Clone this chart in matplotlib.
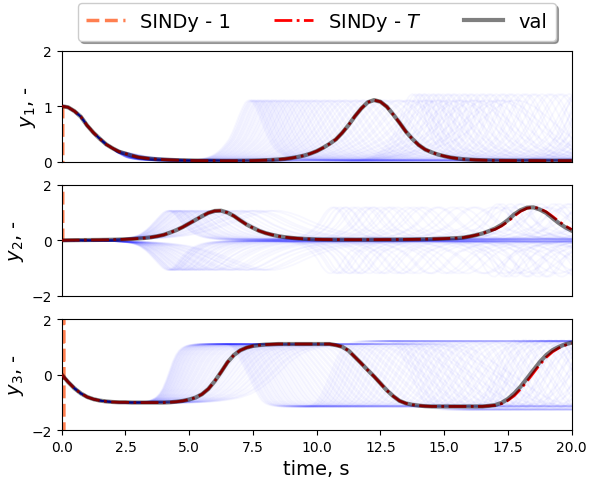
import numpy as np
import matplotlib
matplotlib.use("Agg")
import matplotlib.pyplot as plt
from matplotlib.lines import Line2D

# validation trajectory, every 0.25 s (0 .. 20 s)
time_s = np.linspace(0.0, 20.0, 81)

val_y1 = [1.00, 0.98, 0.91, 0.81, 0.65, 0.52, 0.41, 0.31, 0.24, 0.18,
          0.145, 0.11, 0.08, 0.065, 0.052, 0.043, 0.037, 0.032, 0.028, 0.025,
          0.022, 0.020, 0.019, 0.018, 0.017, 0.016, 0.016, 0.016, 0.017, 0.018,
          0.020, 0.023, 0.027, 0.032, 0.040, 0.050, 0.065, 0.085, 0.110, 0.145,
          0.19, 0.25, 0.32, 0.40, 0.52, 0.66, 0.82, 0.96, 1.07, 1.11,
          1.08, 0.99, 0.85, 0.70, 0.54, 0.41, 0.30, 0.22, 0.17, 0.13,
          0.10, 0.075, 0.058, 0.045, 0.037, 0.031, 0.027, 0.024, 0.022, 0.021,
          0.020, 0.020, 0.019, 0.019, 0.019, 0.018, 0.018, 0.018, 0.018, 0.018,
          0.018]

val_y2 = [0.000, 0.005, 0.008, 0.010, 0.012, 0.014, 0.016, 0.019, 0.023, 0.030,
          0.040, 0.052, 0.066, 0.085, 0.11, 0.15, 0.20, 0.28, 0.37, 0.48,
          0.61, 0.74, 0.87, 0.99, 1.06, 1.07, 1.00, 0.88, 0.72, 0.57,
          0.45, 0.34, 0.26, 0.20, 0.15, 0.115, 0.09, 0.07, 0.055, 0.045,
          0.035, 0.030, 0.028, 0.026, 0.025, 0.025, 0.024, 0.024, 0.024, 0.025,
          0.026, 0.027, 0.028, 0.030, 0.032, 0.035, 0.038, 0.042, 0.048, 0.055,
          0.063, 0.072, 0.080, 0.10, 0.14, 0.19, 0.25, 0.33, 0.43, 0.56,
          0.73, 0.94, 1.09, 1.18, 1.19, 1.11, 0.99, 0.80, 0.62, 0.47,
          0.35]

val_y3 = [0.00, -0.27, -0.50, -0.68, -0.81, -0.89, -0.94, -0.97, -0.99, -1.00,
          -1.00, -1.01, -1.01, -1.01, -1.01, -1.01, -1.01, -1.00, -0.98, -0.95,
          -0.90, -0.83, -0.71, -0.52, -0.24, 0.09, 0.44, 0.70, 0.87, 0.97,
          1.03, 1.06, 1.08, 1.09, 1.10, 1.10, 1.10, 1.10, 1.10, 1.10,
          1.10, 1.10, 1.10, 1.06, 1.00, 0.86, 0.63, 0.40, 0.16, -0.07,
          -0.32, -0.57, -0.78, -0.95, -1.04, -1.09, -1.12, -1.14, -1.15, -1.15,
          -1.15, -1.15, -1.15, -1.15, -1.15, -1.15, -1.15, -1.13, -1.10, -1.02,
          -0.88, -0.68, -0.43, -0.14, 0.16, 0.45, 0.70, 0.88, 1.00, 1.09,
          1.15]

# SINDy - T follows val, lagging a little in the last few seconds (17 .. 20 s)
sindy_T_tail_y2 = [0.40, 0.52, 0.68, 0.88, 1.05, 1.16, 1.20, 1.14, 1.03, 0.86, 0.68, 0.52, 0.39]
sindy_T_tail_y3 = [-1.11, -1.05, -0.93, -0.76, -0.52, -0.24, 0.06, 0.36, 0.62, 0.82, 0.96, 1.06, 1.13]

# SINDy - 1 blows up right after the start
sindy_1_t = [0.0, 0.04, 0.05, 0.08, 0.09]
sindy_1_y1 = [1.0, 0.99, -60.0, -60.0, -60.0]
sindy_1_y2 = [0.0, 0.0, 60.0, 60.0, 60.0]
sindy_1_y3 = [0.0, -0.05, -0.1, 40.0, -40.0]

# ensemble of test trajectories (blue): relative speed after leaving the first saddle
ens_speed = [0.65, 0.67, 0.68, 0.70, 0.72, 0.73, 0.75, 0.76, 0.78, 0.80,
             0.81, 0.83, 0.84, 0.86, 0.88, 0.89, 0.91, 0.92, 0.94, 0.96,
             0.97, 0.99, 1.00, 1.02, 1.04, 1.05, 1.07, 1.08, 1.10, 1.12,
             1.13, 1.15, 1.16, 1.18, 1.20, 1.21, 1.23, 1.24, 1.26, 1.28,
             1.29, 1.31, 1.32, 1.34, 1.36, 1.37, 1.39, 1.40, 1.42, 1.44,
             1.45, 1.47, 1.48, 1.50, 1.52, 1.53, 1.55, 1.56, 1.58, 1.60,
             1.61, 1.63, 1.64, 1.66, 1.68, 1.69, 1.71, 1.72, 1.74, 1.76,
             1.77, 1.79, 1.80, 1.82, 1.84, 1.85, 1.87, 1.88, 1.90, 1.92]
ens_y2_sign = [1, -1, 1, -1, -1, 1, 1, -1, 1, -1,
               -1, 1, 1, -1, 1, -1, -1, 1, -1, 1,
               1, -1, 1, -1, -1, 1, -1, 1, 1, -1,
               -1, 1, 1, -1, 1, -1, 1, -1, -1, 1,
               1, -1, -1, 1, 1, -1, 1, -1, 1, -1,
               -1, 1, -1, 1, 1, -1, -1, 1, -1, 1,
               1, -1, 1, 1, -1, -1, 1, -1, 1, -1,
               -1, 1, 1, -1, 1, -1, -1, 1, 1, -1]
split_time = 2.0
period = 12.3
cycle_gain = 1.1

val = [np.array(val_y1), np.array(val_y2), np.array(val_y3)]
tail_start = 68
sindy_T = [val[0].copy(), val[1].copy(), val[2].copy()]
sindy_T[1][tail_start:] = sindy_T_tail_y2
sindy_T[2][tail_start:] = sindy_T_tail_y3
sindy_1 = [sindy_1_y1, sindy_1_y2, sindy_1_y3]

fine_t = np.linspace(0.0, 20.0, 401)


def ensemble_member(speed):
    """phase along the val trajectory for one test trajectory"""
    phase = np.where(fine_t < split_time, fine_t,
                     split_time + (fine_t - split_time) * speed)
    gain = np.ones_like(phase)
    while (phase > time_s[-1]).any():
        over = phase > time_s[-1]
        phase[over] -= period
        gain[over] = cycle_gain
    return phase, gain


fig, axes = plt.subplots(3, 1, figsize=(5.89, 4.85), dpi=100, sharex=True)
fig.subplots_adjust(left=0.1048, right=0.9706, top=0.8934, bottom=0.1113, hspace=0.209)

ylabels = ["$y_1$, -", "$y_2$, -", "$y_3$, -"]
ylims = [(0, 2), (-2, 2), (-2, 2)]
yticks = [[0, 1, 2], [-2, 0, 2], [-2, 0, 2]]

for i, ax in enumerate(axes):
    for speed, sign in zip(ens_speed, ens_y2_sign):
        phase, gain = ensemble_member(speed)
        y = np.interp(phase, time_s, val[i]) * gain
        if i == 1:
            y = y * sign
        ax.plot(fine_t, y, color="blue", alpha=0.03, lw=1.3, zorder=1)

    ax.plot(sindy_1_t, sindy_1[i], color="coral", ls="--", lw=2.5, zorder=2)
    ax.plot(time_s, sindy_T[i], color="red", ls="-.", lw=2.0, zorder=3)
    ax.plot(time_s, val[i], color="k", alpha=0.5, lw=3.0, zorder=4)

    ax.set_xlim(0, 20)
    ax.set_ylim(*ylims[i])
    ax.set_yticks(yticks[i])
    ax.set_ylabel(ylabels[i], fontsize=14)
    ax.tick_params(labelsize=10)
    if i < 2:
        ax.tick_params(bottom=False, labelbottom=False)

axes[2].set_xticks(np.arange(0, 20.1, 2.5))
axes[2].set_xlabel("time, s", fontsize=14)

handles = [Line2D([], [], color="coral", ls="--", lw=2.5),
           Line2D([], [], color="red", ls="-.", lw=2.0),
           Line2D([], [], color="k", alpha=0.5, lw=3.0)]
fig.legend(handles, ["SINDy - 1", "SINDy - $T$", "val"], ncol=3, loc="center",
           bbox_to_anchor=(0.5377, 0.953), fontsize=14, shadow=True, fancybox=True,
           columnspacing=2.2)

fig.savefig("out.png", dpi=100)
